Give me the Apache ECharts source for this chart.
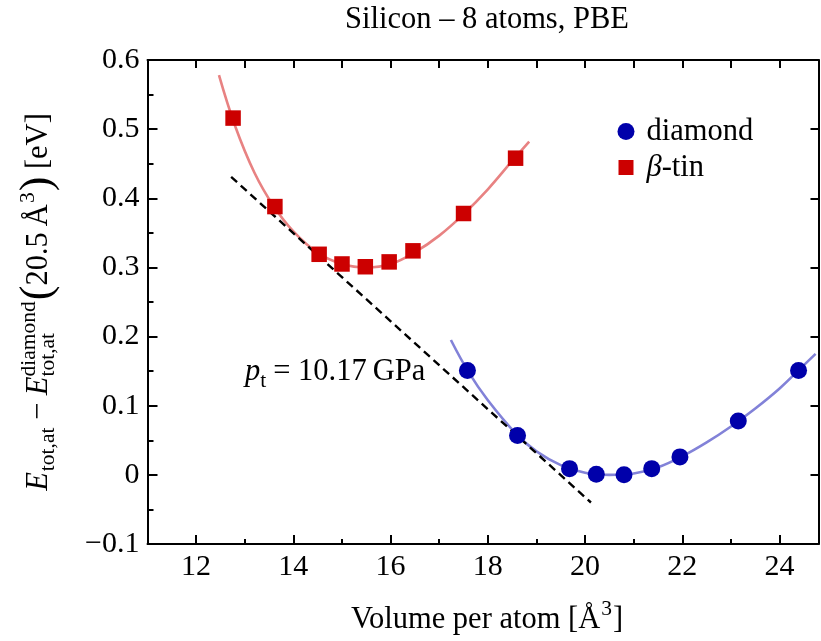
<!DOCTYPE html>
<html><head><meta charset="utf-8">
<script src="https://cdn.jsdelivr.net/npm/echarts@6/dist/echarts.min.js"></script>
<style>html,body{margin:0;padding:0;background:#fff}#c{width:821px;height:641px}</style>
</head><body><div id="c"></div>
<script>
// ---------------- data ----------------
const diamondV = [17.58, 18.61, 19.68, 20.23, 20.80, 21.37, 21.95, 23.15, 24.39];
const diamondE = [0.151, 0.057, 0.009, 0.001, 0.000, 0.009, 0.026, 0.078, 0.151];
const betaV = [12.76, 13.62, 14.53, 15.00, 15.48, 15.97, 16.46, 17.50, 18.57];
const betaE = [0.516, 0.388, 0.319, 0.305, 0.301, 0.308, 0.324, 0.378, 0.458];
const diamondFitV = [17.24, 17.6, 18.0, 18.6, 19.0, 19.5, 20.0, 20.5, 21.0, 21.5, 22.0, 22.5, 23.0, 23.5, 24.0, 24.4, 24.74];
const diamondFitE = [0.195, 0.149, 0.108, 0.058, 0.034, 0.014, 0.003, 0.000, 0.002, 0.011, 0.027, 0.047, 0.070, 0.096, 0.125, 0.152, 0.175];
const betaFitV = [12.47, 12.8, 13.2, 13.6, 14.0, 14.5, 15.0, 15.5, 16.0, 16.5, 17.0, 17.5, 18.0, 18.5, 18.85];
const betaFitE = [0.578, 0.505, 0.437, 0.388, 0.352, 0.321, 0.305, 0.300, 0.305, 0.322, 0.346, 0.377, 0.413, 0.454, 0.482];
const tangentV = [12.72, 20.12];
const tangentE = [0.431, -0.040];
const xMajorTicks = [12, 14, 16, 18, 20, 22, 24];
const xMinorTicks = [11, 13, 15, 17, 19, 21, 23];
const xTopTicks = [11, 12, 13, 14, 15, 16, 17, 18, 19, 20, 21, 22, 23, 24];
const yTicks = [-0.1, 0, 0.1, 0.2, 0.3, 0.4, 0.5, 0.6];
const titleText = 'Silicon \u2013 8 atoms, PBE';
const annotationText = '= 10.17\u2009GPa';
const seriesNames = ['diamond', '\u03b2-tin'];

// ---------------- layout ----------------
const FONT = 'Liberation Serif';
const M = 30.5, S = 21.5, K = 0.33;
const GRID = {left: 147.5, top: 60, right: 2.5, bottom: 97};
const xMin = 11, xMax = 24.8;
const zip = (a, b) => a.map((v, i) => [v, b[i]]);

const mctx = document.createElement('canvas').getContext('2d');
function measure(t, size, italic) {
  mctx.font = (italic ? 'italic ' : '') + size + 'px "' + FONT + '"';
  return mctx.measureText(t).width;
}
function pieceText(t, size, italic, x, baseY) {
  return {type: 'text', x: x, y: baseY - K * size,
    style: {text: t, fontSize: size, fontFamily: FONT, fontStyle: italic ? 'italic' : 'normal',
      fill: '#000', align: 'left', verticalAlign: 'middle'}};
}
function buildPieces(pieces) {
  let x = 0; const out = [];
  pieces.forEach(p => {
    if (p.stack) {
      let w = 0;
      p.stack.forEach(q => { out.push(pieceText(q.t, q.s, q.i, x, q.dy || 0)); w = Math.max(w, measure(q.t, q.s, q.i)); });
      x += w;
    } else {
      out.push(pieceText(p.t, p.s, p.i, x + (p.dx || 0), p.dy || 0));
      x += measure(p.t, p.s, p.i) + (p.dx || 0) + (p.after || 0);
    }
  });
  return {children: out, width: x};
}

const yName = buildPieces([
  {t: 'E', s: M, i: true},
  {t: 'tot,at', s: S, dy: 6, dx: 1},
  {t: ' \u2212 ', s: M},
  {t: 'E', s: M, i: true},
  {stack: [{t: 'diamond', s: S, dy: -13}, {t: 'tot,at', s: S, dy: 6}]},
  {t: '(', s: 44, dy: 4, dx: 1},
  {t: '20.5\u2009\u00c5', s: M},
  {t: '3', s: S, dy: -14, dx: 1},
  {t: ')', s: 44, dy: 4, dx: 1},
  {t: ' [eV]', s: M}
]);
const yCenter = GRID.top + (641 - GRID.top - GRID.bottom) / 2;

const annot = buildPieces([
  {t: 'p', s: M, i: true},
  {t: 't', s: S, dy: 6, after: 7},
  {t: annotationText, s: M}
]);

const xName = buildPieces([
  {t: 'Volume per atom [\u00c5', s: M},
  {t: '3', s: S, dy: -14, dx: 1, after: 1},
  {t: ']', s: M}
]);

const chart = echarts.init(document.getElementById('c'), null, {renderer: 'canvas'});
const axisLine = {show: true, onZero: false, lineStyle: {color: '#000', width: 2}};
const tickStyle = {color: '#000', width: 2};
const labelStyle = {color: '#000', fontFamily: FONT, fontSize: 30};

chart.setOption({
  animation: false,
  backgroundColor: '#fff',
  grid: {left: GRID.left, top: GRID.top, right: GRID.right, bottom: GRID.bottom, containLabel: false},
  xAxis: [
    {type: 'value', min: xMin, max: xMax, position: 'bottom', axisLine: axisLine, splitLine: {show: false},
      axisTick: {show: true, inside: true, length: 9, lineStyle: tickStyle, customValues: xMajorTicks},
      axisLabel: {show: true, margin: 8, customValues: xMajorTicks, ...labelStyle}},
    {type: 'value', min: xMin, max: xMax, position: 'bottom', axisLine: {show: false, onZero: false}, splitLine: {show: false},
      axisTick: {show: true, inside: true, length: 5, lineStyle: tickStyle, customValues: xMinorTicks},
      axisLabel: {show: false}},
    {type: 'value', min: xMin, max: xMax, position: 'top', axisLine: axisLine, splitLine: {show: false},
      axisTick: {show: true, inside: true, length: 8, lineStyle: tickStyle, customValues: xTopTicks},
      axisLabel: {show: false}}
  ],
  yAxis: [
    {type: 'value', min: yTicks[0], max: yTicks[yTicks.length - 1], interval: 0.1, position: 'left',
      axisLine: axisLine, splitLine: {show: false},
      axisTick: {show: true, inside: true, length: 10, lineStyle: tickStyle},
      minorTick: {show: true, splitNumber: 2, length: 6, lineStyle: tickStyle},
      axisLabel: {show: true, margin: 8, ...labelStyle,
        formatter: v => { const r = Math.round(v * 10) / 10; return r === 0 ? '0' : (r < 0 ? '\u2212' + Math.abs(r).toFixed(1) : r.toFixed(1)); }}},
    {type: 'value', min: yTicks[0], max: yTicks[yTicks.length - 1], interval: 0.1, position: 'right',
      axisLine: axisLine, splitLine: {show: false},
      axisTick: {show: true, inside: true, length: 8, lineStyle: tickStyle},
      axisLabel: {show: false}}
  ],
  legend: [
    {data: [{name: seriesNames[0], icon: 'circle'}], left: 617.5, top: 116, padding: 0,
      itemWidth: 17, itemHeight: 17, selectedMode: false,
      textStyle: {color: '#000', fontFamily: FONT, fontSize: M, padding: [0, 0, 0, 7]}},
    {data: [{name: seriesNames[1], icon: 'rect'}], left: 618.5, top: 152, padding: 0,
      itemWidth: 15, itemHeight: 15, selectedMode: false,
      formatter: n => '{i|\u03b2}{n|-tin}',
      textStyle: {color: '#000', fontFamily: FONT, fontSize: M, padding: [0, 0, 0, 8],
        rich: {i: {fontStyle: 'italic', fontFamily: FONT, fontSize: M, color: '#000'},
               n: {fontFamily: FONT, fontSize: M, color: '#000'}}}}
  ],
  series: [
    {type: 'line', name: 'diamond fit', data: zip(diamondFitV, diamondFitE), smooth: 0.4,
      showSymbol: false, silent: true, lineStyle: {color: '#8282d8', width: 2.6}, z: 1},
    {type: 'line', name: 'beta fit', data: zip(betaFitV, betaFitE), smooth: 0.4,
      showSymbol: false, silent: true, lineStyle: {color: '#e88282', width: 2.6}, z: 1},
    {type: 'line', name: 'tangent', data: zip(tangentV, tangentE), showSymbol: false, silent: true,
      lineStyle: {color: '#000', width: 2.4, type: [8, 5]}, z: 2},
    {type: 'scatter', name: seriesNames[0], data: zip(diamondV, diamondE), symbol: 'circle', symbolSize: 17,
      itemStyle: {color: '#0000aa', opacity: 1}, z: 3},
    {type: 'scatter', name: seriesNames[1], data: zip(betaV, betaE), symbol: 'rect', symbolSize: 15.5,
      itemStyle: {color: '#cc0000', opacity: 1}, z: 3}
  ],
  graphic: [
    {type: 'text', x: 487, y: 20, style: {text: titleText, fontSize: M, fontFamily: FONT, fill: '#000', align: 'center', verticalAlign: 'middle'}},
    {type: 'group', x: 487 - xName.width / 2, y: 630, children: xName.children},
    {type: 'group', x: 49, y: yCenter + yName.width / 2, rotation: Math.PI / 2, children: yName.children},
    {type: 'group', x: 245, y: 382, children: annot.children}
  ]
});
</script>
</body></html>
